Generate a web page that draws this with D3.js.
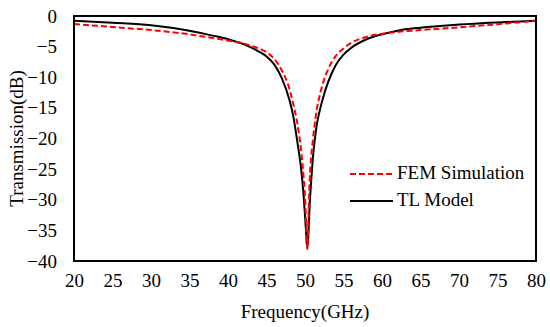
<!DOCTYPE html>
<html>
<head lang="en">
    <meta charset="UTF-8">
    <title>Transmission vs frequency</title>
    <script src="https://cdn.jsdelivr.net/npm/d3@7/dist/d3.min.js"></script>
    <style>
        body { margin: 0; background: #fff; }
        svg text { font-family: "Times New Roman", "Liberation Serif", "DejaVu Serif", serif !important; fill: #000; }
    </style>
</head>
<body>
<script>

    // frequency points (GHz), dense around the notch
    var freq = [20, 25, 30, 35, 38, 40, 42, 44, 45, 46, 47, 48, 48.5, 49, 49.5, 49.8, 50, 50.15, 50.3,
                50.45, 50.6, 50.8, 51, 51.5, 52, 52.5, 53, 54, 55, 56, 58, 60, 62, 65, 70, 75, 80];

    var tlModel = [-0.77, -1.1, -1.5, -2.4, -3.2, -3.8, -4.6, -5.8, -6.6, -7.9, -10.2, -13.8, -16.5, -20.5, -25, -29, -32.5, -35.5, -38,
                   -35.5, -31, -27, -23.5, -18, -15, -12.7, -10.8, -8, -6.3, -5.2, -3.8, -3.0, -2.4, -1.9, -1.4, -1.05, -0.77];

    var femSim = [-1.3, -1.8, -2.3, -3.0, -3.6, -4.0, -4.5, -5.3, -5.9, -7.0, -8.9, -12.0, -14.5, -17.5, -22, -26, -29.5, -34, -38,
                  -33, -27, -23, -20.5, -15.5, -12.5, -10.3, -8.7, -6.5, -5.3, -4.4, -3.4, -2.9, -2.6, -2.3, -1.85, -1.35, -0.77];

    var xTicks = [20, 25, 30, 35, 40, 45, 50, 55, 60, 65, 70, 75, 80];
    var yTicks = [0, -5, -10, -15, -20, -25, -30, -35, -40];

    var width = 550,
        height = 327;
    var margin = {left: 74, top: 16, right: 14, bottom: 66};

    var svg = d3.select("body").append("svg")
        .attr("width", width)
        .attr("height", height);

    var x = d3.scaleLinear().domain([20, 80]).range([margin.left, width - margin.right]);
    var y = d3.scaleLinear().domain([-40, 0]).range([height - margin.bottom, margin.top]);

    // tick labels only, the original has no tick marks
    svg.append("g")
        .attr("transform", "translate(0," + (height - margin.bottom) + ")")
        .call(d3.axisBottom(x).tickValues(xTicks).tickSize(0).tickPadding(13).tickFormat(d3.format("d")))
        .call(function(g) {
            g.attr("font-family", null).attr("font-size", null);
            g.select(".domain").remove();
            g.selectAll("text").style("font-size", "19px");
        });

    svg.append("g")
        .attr("transform", "translate(" + margin.left + ",0)")
        .call(d3.axisLeft(y).tickValues(yTicks).tickSize(0).tickPadding(17).tickFormat(d3.format("d")))
        .call(function(g) {
            g.attr("font-family", null).attr("font-size", null);
            g.select(".domain").remove();
            g.selectAll("text").style("font-size", "19px");
        });

    var line = d3.line()
        .x(function(d) { return x(d[0]); })
        .y(function(d) { return y(d[1]); })
        .curve(d3.curveMonotoneX);

    svg.append("path")
        .datum(d3.zip(freq, tlModel))
        .attr("d", line)
        .attr("fill", "none")
        .attr("stroke", "#000")
        .attr("stroke-width", 2);

    svg.append("path")
        .datum(d3.zip(freq, femSim))
        .attr("d", line)
        .attr("fill", "none")
        .attr("stroke", "#f00")
        .attr("stroke-width", 2)
        .attr("stroke-dasharray", "6,3");

    // frame
    svg.append("rect")
        .attr("x", margin.left)
        .attr("y", margin.top)
        .attr("width", width - margin.left - margin.right)
        .attr("height", height - margin.top - margin.bottom)
        .attr("fill", "none")
        .attr("stroke", "#000")
        .attr("stroke-width", 2);

    // axis titles
    svg.append("text")
        .attr("x", (x.range()[0] + x.range()[1]) / 2)
        .attr("y", 318)
        .attr("text-anchor", "middle")
        .style("font-size", "19px")
        .text("Frequency(GHz)");

    svg.append("text")
        .attr("transform", "translate(23," + ((y.range()[0] + y.range()[1]) / 2) + ") rotate(-90)")
        .attr("text-anchor", "middle")
        .style("font-size", "19px")
        .text("Transmission(dB)");

    // legend
    var legend = [
        {name: "FEM Simulation", color: "#f00", dash: "6,3", y: 174},
        {name: "TL Model", color: "#000", dash: null, y: 201}
    ];

    var lg = svg.append("g").selectAll("g").data(legend).enter().append("g");
    lg.append("line")
        .attr("x1", 350).attr("x2", 393)
        .attr("y1", function(d) { return d.y; })
        .attr("y2", function(d) { return d.y; })
        .attr("stroke", function(d) { return d.color; })
        .attr("stroke-width", 2)
        .attr("stroke-dasharray", function(d) { return d.dash; });
    lg.append("text")
        .attr("x", 397)
        .attr("y", function(d) { return d.y + 5; })
        .style("font-size", "19px")
        .text(function(d) { return d.name; });

</script>
</body>
</html>
